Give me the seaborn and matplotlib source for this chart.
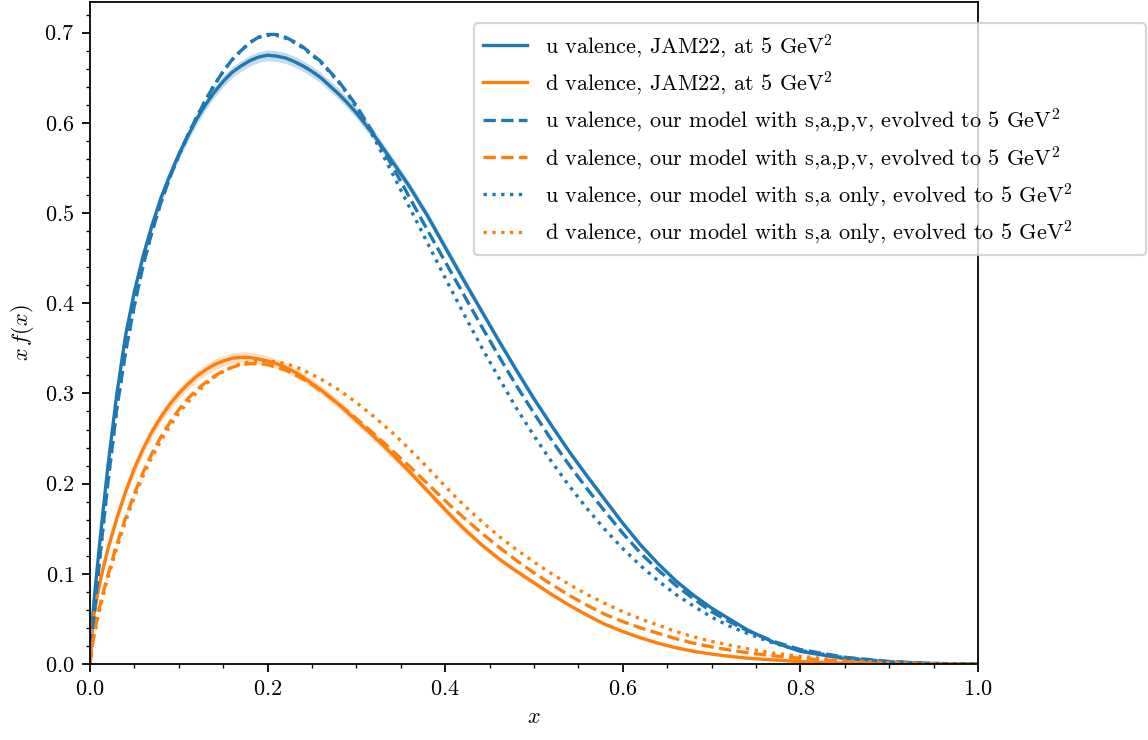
import numpy as np
import pandas as pd
import matplotlib
matplotlib.use("Agg")
import matplotlib.pyplot as plt
from matplotlib.ticker import MultipleLocator
import seaborn as sns

# ---- data ----
x_grid = [0.0, 0.0025, 0.005, 0.01, 0.015, 0.02, 0.03, 0.04, 0.05, 0.06, 0.07, 0.08, 0.09,
          0.10, 0.11, 0.12, 0.13, 0.14, 0.15, 0.16, 0.17, 0.18, 0.19, 0.20,
          0.21, 0.22, 0.23, 0.24, 0.25, 0.26, 0.27, 0.28, 0.29, 0.30,
          0.32, 0.34, 0.36, 0.38, 0.40, 0.42, 0.44, 0.46, 0.48, 0.50, 0.52, 0.54,
          0.56, 0.58, 0.60, 0.62,
          0.64, 0.66, 0.68, 0.70, 0.72, 0.74, 0.77, 0.80, 0.85, 0.90, 0.95, 1.0]

u_jam = [0.0, 0.045, 0.075, 0.125, 0.172, 0.218, 0.298, 0.364, 0.413, 0.453, 0.487, 0.517, 0.542,
         0.565, 0.585, 0.604, 0.620, 0.634, 0.646, 0.656, 0.663, 0.669, 0.673, 0.675,
         0.674, 0.672, 0.668, 0.663, 0.657, 0.650, 0.641, 0.632, 0.622, 0.611,
         0.586, 0.558, 0.529, 0.497, 0.462, 0.427, 0.393, 0.359, 0.326, 0.294, 0.264, 0.235,
         0.208, 0.182, 0.156, 0.132,
         0.111, 0.092, 0.076, 0.062, 0.050, 0.038, 0.024, 0.014, 0.0058, 0.002, 0.0004, 0.0]
u_jam_err = ([0.0, 0.002, 0.003, 0.004, 0.004, 0.005, 0.005, 0.005, 0.006, 0.006, 0.006, 0.006, 0.006]
             + [0.006] * 21
             + [0.006, 0.005, 0.005, 0.005, 0.005, 0.005, 0.004, 0.004, 0.004, 0.004, 0.004, 0.003,
                0.003, 0.003, 0.003, 0.003]
             + [0.002, 0.002, 0.002, 0.0015, 0.0015, 0.0015, 0.001, 0.001, 0.0005, 0.0003, 0.0001, 0.0])

d_jam = [0.0, 0.040, 0.058, 0.085, 0.107, 0.127, 0.161, 0.191, 0.217, 0.239, 0.258, 0.274, 0.288,
         0.300, 0.310, 0.319, 0.326, 0.332, 0.336, 0.339, 0.340, 0.340, 0.338, 0.336,
         0.333, 0.329, 0.324, 0.318, 0.311, 0.304, 0.296, 0.288, 0.279, 0.270,
         0.252, 0.233, 0.213, 0.192, 0.171, 0.151, 0.133, 0.117, 0.103, 0.090, 0.077, 0.065,
         0.054, 0.044, 0.036, 0.029,
         0.023, 0.018, 0.014, 0.011, 0.0085, 0.0065, 0.0045, 0.0026, 0.001, 0.0003, 0.0001, 0.0]
d_jam_err = ([0.0, 0.003, 0.004, 0.005, 0.005, 0.005] + [0.006] * 7
             + [0.006] * 11 + [0.005] * 10
             + [0.005, 0.005, 0.004, 0.004, 0.004, 0.004, 0.003, 0.003, 0.003, 0.003, 0.002, 0.002,
                0.002, 0.002, 0.0015, 0.0015]
             + [0.001, 0.001, 0.001, 0.001, 0.0007, 0.0007, 0.0005, 0.0003, 0.0001, 0.0, 0.0, 0.0])

u_sapv = [0.0, 0.030, 0.058, 0.108, 0.155, 0.200, 0.282, 0.346, 0.398, 0.443, 0.480, 0.512, 0.540,
          0.564, 0.586, 0.606, 0.625, 0.642, 0.657, 0.670, 0.680, 0.689, 0.695, 0.698,
          0.698, 0.695, 0.690, 0.684, 0.676, 0.668, 0.657, 0.646, 0.633, 0.619,
          0.587, 0.553, 0.517, 0.481, 0.446, 0.411, 0.376, 0.342, 0.309, 0.278, 0.248, 0.220,
          0.194, 0.169, 0.145, 0.123,
          0.104, 0.087, 0.072, 0.058, 0.047, 0.037, 0.025, 0.016, 0.0075, 0.0028, 0.0007, 0.0]

d_sapv = [0.0, 0.020, 0.035, 0.060, 0.080, 0.098, 0.132, 0.162, 0.189, 0.213, 0.234, 0.252, 0.268,
          0.282, 0.294, 0.304, 0.312, 0.319, 0.325, 0.329, 0.332, 0.333, 0.333, 0.332,
          0.329, 0.326, 0.321, 0.316, 0.310, 0.303, 0.296, 0.288, 0.280, 0.272,
          0.255, 0.237, 0.219, 0.200, 0.181, 0.163, 0.146, 0.130, 0.115, 0.101, 0.088, 0.076,
          0.065, 0.055, 0.047, 0.040,
          0.034, 0.028, 0.023, 0.019, 0.0155, 0.0125, 0.009, 0.0063, 0.003, 0.0012, 0.0003, 0.0]

u_sa = [0.0, 0.030, 0.058, 0.108, 0.155, 0.200, 0.282, 0.346, 0.398, 0.443, 0.480, 0.512, 0.540,
        0.564, 0.586, 0.606, 0.625, 0.642, 0.657, 0.670, 0.680, 0.689, 0.695, 0.697,
        0.697, 0.694, 0.689, 0.683, 0.675, 0.667, 0.656, 0.645, 0.632, 0.617,
        0.583, 0.545, 0.506, 0.467, 0.428, 0.390, 0.353, 0.318, 0.284, 0.253, 0.224, 0.197,
        0.172, 0.149, 0.128, 0.109,
        0.092, 0.077, 0.064, 0.052, 0.042, 0.034, 0.023, 0.015, 0.007, 0.0025, 0.0006, 0.0]

d_sa = [0.0, 0.020, 0.033, 0.057, 0.077, 0.095, 0.128, 0.158, 0.185, 0.209, 0.230, 0.248, 0.264,
        0.278, 0.290, 0.301, 0.310, 0.318, 0.324, 0.329, 0.333, 0.335, 0.336, 0.336,
        0.335, 0.333, 0.330, 0.326, 0.321, 0.316, 0.310, 0.304, 0.297, 0.290,
        0.274, 0.257, 0.238, 0.218, 0.197, 0.177, 0.159, 0.142, 0.127, 0.113, 0.100, 0.088,
        0.077, 0.067, 0.058, 0.050,
        0.043, 0.036, 0.030, 0.025, 0.021, 0.017, 0.012, 0.0085, 0.0038, 0.0014, 0.0003, 0.0]

labels = [
    r"u valence, JAM22, at 5 GeV$^2$",
    r"d valence, JAM22, at 5 GeV$^2$",
    r"u valence, our model with s,a,p,v, evolved to 5 GeV$^2$",
    r"d valence, our model with s,a,p,v, evolved to 5 GeV$^2$",
    r"u valence, our model with s,a only, evolved to 5 GeV$^2$",
    r"d valence, our model with s,a only, evolved to 5 GeV$^2$",
]

# ---- style ----
plt.rcParams.update({
    "font.family": "serif",
    "font.serif": ["cmr10", "DejaVu Serif"],
    "mathtext.fontset": "cm",
    "axes.formatter.use_mathtext": True,
    "font.size": 10,
    "axes.unicode_minus": False,
})

blue = "#1f77b4"
orange = "#ff7f0e"

fig = plt.figure(figsize=(1148 / 160, 740 / 160), dpi=160)
ax = fig.add_axes([90 / 1148, 76 / 740, 888 / 1148, 662 / 740])

xg = np.array(x_grid)
ax.fill_between(xg, np.array(u_jam) - np.array(u_jam_err), np.array(u_jam) + np.array(u_jam_err),
                color=blue, alpha=0.25, lw=0)
ax.fill_between(xg, np.array(d_jam) - np.array(d_jam_err), np.array(d_jam) + np.array(d_jam_err),
                color=orange, alpha=0.25, lw=0)

series = [(u_jam, blue, "-"), (d_jam, orange, "-"),
          (u_sapv, blue, "--"), (d_sapv, orange, "--"),
          (u_sa, blue, ":"), (d_sa, orange, ":")]
for (ys, col, ls), lab in zip(series, labels):
    sns.lineplot(x=xg, y=np.array(ys), ax=ax, color=col, linestyle=ls, lw=1.5,
                 label=lab, estimator=None, sort=False)

ax.set_xlim(0, 1)
ax.set_ylim(0, 0.734)
ax.xaxis.set_major_locator(MultipleLocator(0.2))
ax.xaxis.set_minor_locator(MultipleLocator(0.05))
ax.yaxis.set_major_locator(MultipleLocator(0.1))
ax.yaxis.set_minor_locator(MultipleLocator(0.02))
ax.set_xlabel(r"$x$")
ax.set_ylabel(r"$x\,f(x)$")

ax.legend(loc="upper left", bbox_to_anchor=(0.4324, 0.0, 0.7568, 0.968), mode="expand",
          borderaxespad=0, frameon=True, labelspacing=0.43)

fig.savefig("out.png", dpi=160)
